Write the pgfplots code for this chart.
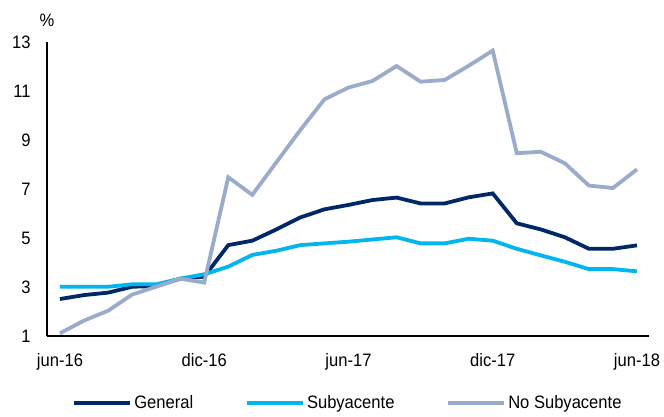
\documentclass[border=0pt]{standalone}
\usepackage{pgfplots}
\pgfplotsset{compat=1.18}
\usepackage{fontspec}
\setmainfont{Liberation Sans}[FakeStretch=0.92]
\definecolor{cGen}{RGB}{0,40,104}
\definecolor{cSub}{RGB}{0,182,236}
\definecolor{cNoSub}{RGB}{154,172,202}
\pgfplotstableread{
x gen sub nosub
0 2.51 3.01 1.11
1 2.67 3.01 1.63
2 2.77 3.01 2.03
3 3.01 3.11 2.69
4 3.04 3.11 3.01
5 3.34 3.34 3.34
6 3.42 3.52 3.18
7 4.71 3.83 7.48
8 4.89 4.31 6.76
9 5.35 4.48 8.09
10 5.84 4.71 9.41
11 6.17 4.78 10.66
12 6.35 4.85 11.14
13 6.55 4.94 11.41
14 6.65 5.03 12.02
15 6.41 4.78 11.38
16 6.41 4.78 11.45
17 6.66 4.97 12.03
18 6.82 4.89 12.65
19 5.60 4.56 8.46
20 5.35 4.29 8.52
21 5.03 4.03 8.05
22 4.56 3.73 7.14
23 4.56 3.73 7.04
24 4.70 3.64 7.80
}\datatable
\begin{document}
\begin{tikzpicture}[font=\fontsize{18}{21}\selectfont]
\path[use as bounding box] (-47pt,-80pt) rectangle (617pt,336pt);
\begin{axis}[
  at={(0,0)}, anchor=south west,
  scale only axis, width=602pt, height=294pt,
  xmin=-0.54, xmax=24.5, ymin=1, ymax=13,
  axis x line*=bottom, axis y line*=left,
  axis line style={black, line width=1.2pt, -},
  major tick length=0pt,
  xtick={0,6,12,18,24},
  xticklabels={jun-16,dic-16,jun-17,dic-17,jun-18},
  ytick={1,3,5,7,9,11,13},
  /pgf/number format/assume math mode=true,
  ticklabel style={font=\fontsize{18}{21}\selectfont},
  xticklabel style={yshift=-14pt},
  yticklabel style={xshift=-13pt},
  legend columns=3,
  legend style={at={(axis description cs:0.5,-0.228)}, anchor=center, draw=none, fill=none,
    font=\fontsize{18}{21}\selectfont,
    /tikz/every even column/.append style={column sep=50pt},
    nodes={inner sep=2pt}},
  legend image code/.code={\draw[#1] (0pt,0pt) -- (56pt,0pt);},
  clip=false,
]
\addplot[cGen, line width=3.8pt] table[x=x,y=gen] {\datatable};
\addlegendentry{General}
\addplot[cSub, line width=3.8pt] table[x=x,y=sub] {\datatable};
\addlegendentry{Subyacente}
\addplot[cNoSub, line width=3.8pt] table[x=x,y=nosub] {\datatable};
\addlegendentry{No Subyacente}
\node[font=\fontsize{18}{21}\selectfont] at (rel axis cs:0,1) [yshift=22pt] {\%};
\end{axis}
\end{tikzpicture}
\end{document}
